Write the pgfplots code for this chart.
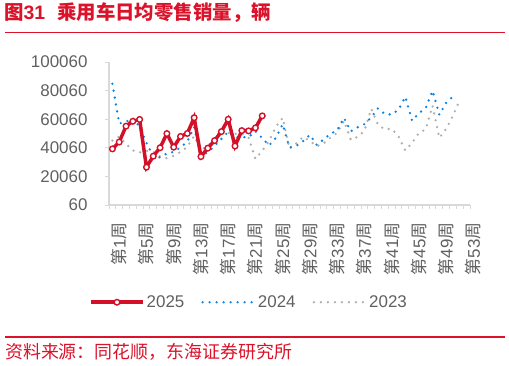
\documentclass[border=0pt]{standalone}
\usepackage{fontspec}
\usepackage{pgfplots}
\pgfplotsset{compat=1.18}
\setmainfont{Liberation Sans}
\newfontfamily\cjk{Noto Sans CJK SC}
\definecolor{hdred}{RGB}{218,18,42}
\definecolor{s25}{RGB}{212,16,40}
\definecolor{s24}{RGB}{10,132,228}
\definecolor{s23}{RGB}{175,175,175}
\definecolor{axgray}{RGB}{217,217,217}
\definecolor{txtgray}{RGB}{96,96,96}
\newcommand\wk[1]{{\cjk 第}#1{\cjk 周}}
\begin{document}
\begin{tikzpicture}
\path[use as bounding box] (0bp,0bp) rectangle (509bp,-366bp);
\node[anchor=west, inner sep=0pt, text=hdred, font=\fontsize{19.5}{20}\selectfont\bfseries] at (4bp,-13bp) {{\cjk\bfseries 图}31\hspace{12bp}{\cjk\bfseries 乘用车日均零售销量，辆}};
\draw[hdred, line width=1.8bp] (5bp,-32.5bp) -- (505bp,-32.5bp);
\draw[hdred, line width=1.2bp] (5bp,-337bp) -- (505bp,-337bp);
\node[anchor=west, inner sep=0pt, text=hdred, font=\fontsize{18}{19}\selectfont\cjk] at (5bp,-352bp) {资料来源：同花顺，东海证券研究所};
\begin{axis}[
  at={(109bp,-205bp)}, anchor=south west,
  scale only axis, width=361bp, height=143bp,
  xmin=0.5, xmax=53.5, ymin=60, ymax=100060,
  axis x line*=bottom, axis y line*=left,
  axis line style={axgray, line width=1.2bp},
  tick align=outside, major tick length=4bp,
  tick style={axgray, line width=1bp},
  scaled y ticks=false,
  ytick={60,20060,40060,60060,80060,100060},
  yticklabels={60,20060,40060,60060,80060,100060},
  yticklabel style={font=\fontsize{17}{17}\selectfont, text=txtgray, xshift=-14bp},
  xtick={0.5,1.5,...,53.5}, xticklabels={},
  extra x ticks={1,5,...,53},
  extra x tick labels={\wk{1},\wk{5},\wk{9},\wk{13},\wk{17},\wk{21},\wk{25},\wk{29},\wk{33},\wk{37},\wk{41},\wk{45},\wk{49},\wk{53}},
  extra x tick style={tick style={draw=none}},
  xticklabel style={font=\fontsize{17}{17}\selectfont, text=txtgray, rotate=90, anchor=east, xshift=-10bp, yshift=-6.8bp},
  legend style={at={(0.388,-0.68)}, anchor=center, draw=none, fill=none, font=\fontsize{17}{17}\selectfont, text=txtgray, legend columns=3, /tikz/every even column/.append style={column sep=15bp}},
  legend image code/.code={\draw[mark repeat=2,mark phase=2,#1] plot coordinates {(0bp,0bp) (26bp,0bp) (52bp,0bp)};},
  reverse legend,
]
\addplot[s23, line width=2.6bp, line cap=round, dash pattern=on 0bp off 7bp] coordinates {
(1,45120)(2,47920)(3,42800)(4,38250)(5,36850)(6,37900)(7,37200)(8,34050)(9,32800)(10,34400)
(11,37200)(12,40700)(13,48410)(14,38600)(15,41400)(16,45960)(17,53310)(18,50510)(19,49810)(20,49810)
(21,47010)(22,32290)(23,37900)(24,44900)(25,54720)(26,61020)(27,39300)(28,43150)(29,47700)(30,44900)
(31,41050)(32,43150)(33,47010)(34,50510)(35,58920)(36,45610)(37,47700)(38,51910)(39,67330)(40,56120)
(41,52960)(42,53450)(43,48060)(44,38250)(45,43510)(46,50510)(47,52960)(48,69430)(49,47010)(50,53310)
(51,62430)(52,73640)};
\addlegendentry{2023}
\addplot[s24, line width=2.6bp, line cap=round, dash pattern=on 0bp off 7bp] coordinates {
(1,84850)(2,57030)(3,58220)(4,60810)(5,54720)(6,43510)(7,34050)(8,33350)(9,36150)(10,37200)
(11,40350)(12,44400)(13,54510)(14,34400)(15,36850)(16,41400)(17,46310)(18,51210)(19,47360)(20,47500)
(21,47500)(22,51700)(23,46800)(24,41750)(25,47010)(26,56610)(27,40350)(28,41400)(29,44700)(30,49110)
(31,42100)(32,45820)(33,49810)(34,52260)(35,61020)(36,51560)(37,54370)(38,56610)(39,61370)(40,67680)
(41,63620)(42,63340)(43,66630)(44,75740)(45,58920)(46,64320)(47,67820)(48,79940)(49,63130)(50,71540)
(51,75950)};
\addlegendentry{2024}
\addplot[s25, line width=3.5bp, mark=*, mark size=2.8bp, mark options={fill=white, draw=s25, line width=1.4bp, solid}] coordinates {
(1,39300)(2,44100)(3,55200)(4,58600)(5,59900)(6,26500)(7,34200)(8,40100)(9,50000)(10,40500)
(11,48000)(12,50100)(13,61100)(14,33900)(15,39800)(16,45100)(17,51400)(18,60000)(19,41300)(20,52100)
(21,51900)(22,54000)(23,62400)};
\addlegendentry{2025}
\end{axis}
\end{tikzpicture}
\end{document}
